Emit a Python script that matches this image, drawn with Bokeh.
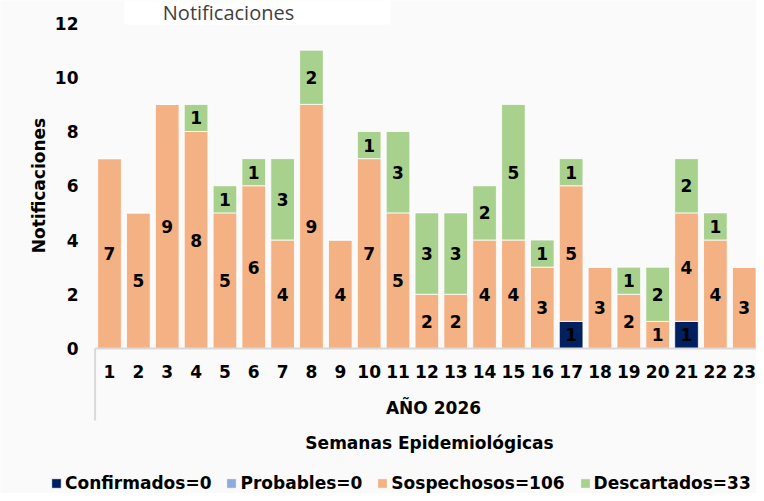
from bokeh.plotting import figure
from bokeh.models import ColumnDataSource, Range1d, Legend, LegendItem, BoxAnnotation
from bokeh.core.properties import value
from bokeh.embed import file_html
from bokeh.resources import INLINE
import numpy as np

# ---------------- data ----------------
weeks = list(range(1, 24))
week_labels = [str(w) for w in weeks]
confirmados = [0, 0, 0, 0, 0, 0, 0, 0, 0, 0, 0, 0, 0, 0, 0, 0, 1, 0, 0, 0, 1, 0, 0]
probables = [0] * 23
sospechosos = [7, 5, 9, 8, 5, 6, 4, 9, 4, 7, 5, 2, 2, 4, 4, 3, 5, 3, 2, 1, 4, 4, 3]
descartados = [0, 0, 0, 1, 1, 1, 3, 2, 0, 1, 3, 3, 3, 2, 5, 1, 1, 0, 1, 2, 2, 1, 0]

series_keys = ["confirmados", "probables", "sospechosos", "descartados"]
legend_labels = ["Confirmados=0", "Probables=0", "Sospechosos=106", "Descartados=33"]
colors = ["#002060", "#8FAADC", "#F4B183", "#A9D18E"]
y_ticks = [0, 2, 4, 6, 8, 10, 12]
title_text = "Notificaciones"
group_label = "AÑO 2026"
x_title = "Semanas Epidemiológicas"
y_title = "Notificaciones"

# ---------------- layout constants (pixels) ----------------
W, H = 756, 493
FONT = "DejaVu Sans"
FS = "17px"
AXIS_GRAY = "#d9d9d9"
BAND_LEFT_PX = 94.6     # left edge of first category band
PITCH_PX = 28.85        # category pitch
ZERO_PX = 348.0         # y pixel of value 0
UNIT_PX = 27.125        # pixels per unit of value


def dx(px):
    return weeks[0] - 0.5 + (px - BAND_LEFT_PX) / PITCH_PX


def dy(py):
    return (ZERO_PX - py) / UNIT_PX


data = dict(weeks=weeks, confirmados=confirmados, probables=probables,
            sospechosos=sospechosos, descartados=descartados)
source = ColumnDataSource(data)

# frame covers the whole canvas; all guides are drawn in data space
p = figure(width=W, height=H, output_backend="svg", toolbar_location=None,
           x_range=Range1d(dx(0), dx(W)), y_range=Range1d(dy(H), dy(0)),
           min_border_left=0, min_border_right=0, min_border_top=0,
           min_border_bottom=0,
           background_fill_color="#fafafa", border_fill_color="#fafafa",
           outline_line_color=None)
p.grid.visible = False
p.axis.visible = False

# white box behind the chart title
p.add_layout(BoxAnnotation(left=dx(124), right=dx(390), top=dy(0), bottom=dy(24),
                           fill_color="white", fill_alpha=1, line_color=None,
                           level="underlay"))

renderers = p.vbar_stack(series_keys, x="weeks", width=0.82, color=colors,
                         source=source, line_color="white", line_width=0.8)


def txt(x, y, t, **kw):
    opts = dict(text_font=value(FONT), text_font_size=FS, text_font_style="bold",
                text_align="center", text_baseline="middle", text_color="black")
    opts.update(kw)
    return p.text(x=x, y=y, text=t, **opts)


# segment labels
bottom = np.zeros(len(weeks))
for key in series_keys:
    vals = np.array(data[key], dtype=float)
    mid = bottom + vals / 2.0
    mask = vals > 0
    txt([w for w, m in zip(weeks, mask) if m], list(mid[mask]),
        [str(int(v)) for v in vals[mask]])
    bottom = bottom + vals

# category axis: baseline, left group separator, tick labels, group label, title
x_lo, x_hi = weeks[0] - 0.5, weeks[-1] + 0.5
p.segment(x0=[x_lo], y0=[0], x1=[x_hi], y1=[0], line_color=AXIS_GRAY, line_width=2)
p.segment(x0=[x_lo], y0=[0], x1=[x_lo], y1=[dy(420)], line_color=AXIS_GRAY,
          line_width=2)
txt(weeks, [dy(371)] * len(weeks), week_labels)
txt([dx(433)], [dy(407)], [group_label])
txt([dx(429)], [dy(442)], [x_title])

# value axis: tick labels and title
txt([dx(78)] * len(y_ticks), y_ticks, [str(t) for t in y_ticks], text_align="right")
txt([dx(38)], [dy(185)], [y_title], angle=np.pi / 2)

# chart title, kept fully inside its white box
p.text(x=[dx(228)], y=[dy(12)], text=[title_text], text_font=value("Open Sans"),
       text_font_size="20px", text_align="center", text_baseline="middle",
       text_color="#3f3f3f")

legend = Legend(items=[LegendItem(label=l, renderers=[r])
                       for l, r in zip(legend_labels, renderers)],
                orientation="horizontal", location=(50, 0),
                glyph_width=12, glyph_height=12, label_standoff=3, spacing=14,
                label_height=20, padding=0, margin=0,
                background_fill_alpha=0, border_line_color=None,
                label_text_font=FONT, label_text_font_size=FS,
                label_text_font_style="bold", label_text_color="black")
p.add_layout(legend)

open("out.html", "w").write(file_html(p, INLINE))
